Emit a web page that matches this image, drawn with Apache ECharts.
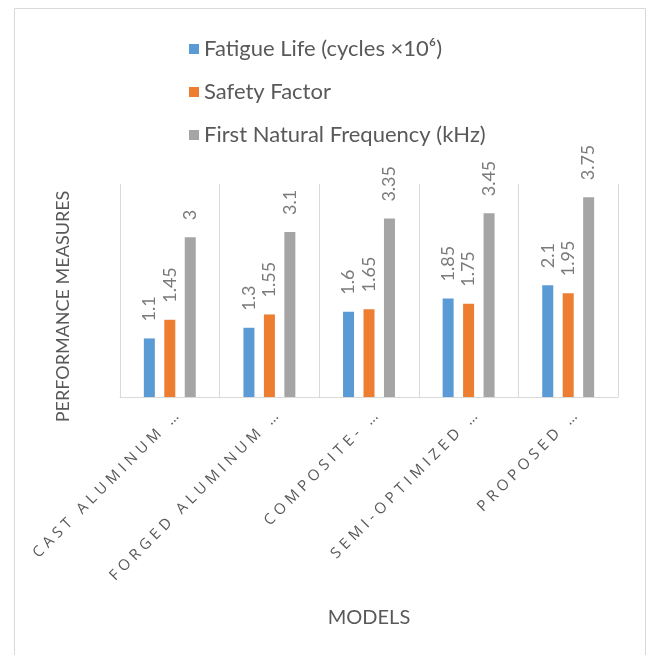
<!DOCTYPE html>
<html>
<head>
<meta charset="utf-8">
<title>Performance measures by model</title>
<script src="https://cdn.jsdelivr.net/npm/echarts@6/dist/echarts.min.js"></script>
<style>
  html, body { margin: 0; padding: 0; background: #ffffff; }
  #chart { width: 648px; height: 655px; }
</style>
</head>
<body>
<div id="chart"></div>
<script>
// Category names (truncated the way the chart shows them)
const models = [
  'CAST ALUMINUM …',
  'FORGED ALUMINUM …',
  'COMPOSITE- …',
  'SEMI-OPTIMIZED …',
  'PROPOSED …'
];

const seriesNames = [
  'Fatigue Life (cycles ×10⁶)',
  'Safety Factor',
  'First Natural Frequency (kHz)'
];

const fatigueLife = [1.1, 1.3, 1.6, 1.85, 2.1];
const safetyFactor = [1.45, 1.55, 1.65, 1.75, 1.95];
const naturalFrequency = [3, 3.1, 3.35, 3.45, 3.75];

const palette = ['#5b9bd5', '#ed7d31', '#a5a5a5'];

// Category labels are drawn in their own face with wide tracking.
// The font is re-assigned after each letterSpacing change so the
// canvas picks the new spacing up immediately.
const TRACKED_FACE = 'Open Sans';
const TRACKING = '4.5px';
const nativeFillText = CanvasRenderingContext2D.prototype.fillText;
CanvasRenderingContext2D.prototype.fillText = function (text, x, y, maxWidth) {
  const tracked = this.font.indexOf(TRACKED_FACE) >= 0;
  if ('letterSpacing' in this) {
    const want = tracked ? TRACKING : '0px';
    if (this.letterSpacing !== want) {
      this.letterSpacing = want;
      const f = this.font;
      this.font = f;
    }
  }
  return maxWidth === undefined
    ? nativeFillText.call(this, text, x, y)
    : nativeFillText.call(this, text, x, y, maxWidth);
};

const chart = echarts.init(document.getElementById('chart'), null, { renderer: 'canvas' });

function barSeries(name, data, color) {
  return {
    name: name,
    type: 'bar',
    data: data,
    barWidth: 11,
    barGap: '86%',
    itemStyle: { color: color },
    label: {
      show: true,
      position: 'top',
      rotate: 90,
      align: 'left',
      verticalAlign: 'middle',
      distance: 15,
      offset: [2, 0],
      fontFamily: 'Lato',
      fontSize: 18,
      color: '#7a7a7a'
    }
  };
}

chart.setOption({
  animation: false,
  backgroundColor: '#ffffff',
  color: palette,
  graphic: [{
    type: 'rect',
    silent: true,
    shape: { x: 14.5, y: 8.5, width: 631, height: 670 },
    style: { fill: 'none', stroke: '#d9d9d9', lineWidth: 1 }
  }],
  legend: {
    orient: 'vertical',
    left: 184,
    top: 33,
    itemWidth: 10,
    itemHeight: 10,
    itemGap: 21,
    icon: 'rect',
    data: seriesNames,
    textStyle: {
      fontFamily: 'Lato',
      fontSize: 22,
      lineHeight: 22,
      color: '#595959'
    }
  },
  grid: { left: 120, right: 30, top: 184, bottom: 258, containLabel: false },
  xAxis: {
    type: 'category',
    data: models,
    name: 'MODELS',
    nameLocation: 'middle',
    nameGap: 211,
    nameTextStyle: { fontFamily: 'Lato', fontSize: 20, color: '#595959' },
    axisLine: { show: true, lineStyle: { color: '#d9d9d9', width: 1 } },
    axisTick: { show: false },
    splitLine: { show: true, interval: 0, lineStyle: { color: '#d9d9d9', width: 1 } },
    axisLabel: {
      interval: 0,
      rotate: 45,
      margin: 24,
      padding: [0, -14, 0, 0],
      fontFamily: TRACKED_FACE,
      fontSize: 15,
      color: '#595959'
    }
  },
  yAxis: {
    type: 'value',
    min: 0,
    max: 4,
    interval: 1,
    name: 'PERFORMANCE MEASURES',
    nameLocation: 'middle',
    nameGap: 48,
    nameTextStyle: {
      fontFamily: 'Lato',
      fontSize: 18,
      color: '#595959',
      padding: [0, 32, 0, 0]
    },
    axisLine: { show: false },
    axisTick: { show: false },
    axisLabel: { show: false },
    splitLine: { show: false }
  },
  series: [
    barSeries(seriesNames[0], fatigueLife, palette[0]),
    barSeries(seriesNames[1], safetyFactor, palette[1]),
    barSeries(seriesNames[2], naturalFrequency, palette[2])
  ]
});
</script>
</body>
</html>
